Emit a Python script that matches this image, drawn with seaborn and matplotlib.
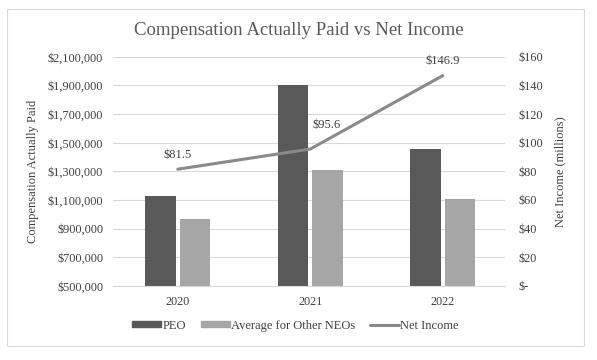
import pandas as pd
import seaborn as sns
import matplotlib.pyplot as plt
from matplotlib.patches import Patch, Rectangle
from matplotlib.lines import Line2D
from matplotlib.ticker import FuncFormatter

# ---------------------------------------------------------
# DATA
# ---------------------------------------------------------
years = ['2020', '2021', '2022']
peo_cap = [1129000, 1904000, 1457000]
neo_cap = [968000, 1310000, 1108000]
net_income = [81.5, 95.6, 146.9]

C_PEO = '#595959'
C_NEO = '#a6a6a6'
C_LINE = '#8a8a8a'
C_TEXT = '#404040'

df = pd.DataFrame({'YEAR': years * 2,
                   'CAP': peo_cap + neo_cap,
                   'GRUP': ['PEO'] * 3 + ['Average for Other NEOs'] * 3})
df_ni = pd.DataFrame({'X': range(len(years)), 'NI': net_income})

sns.set_style("white")
plt.rcParams['font.family'] = ['Liberation Serif', 'DejaVu Serif']

fig = plt.figure(figsize=(5.97, 3.6), dpi=100)
ax = fig.add_axes([0.189, 0.206, 0.657, 0.636])

sns.barplot(data=df, x='YEAR', y='CAP', hue='GRUP',
            palette={'PEO': C_PEO, 'Average for Other NEOs': C_NEO},
            width=0.52, gap=0.12, edgecolor='none', ax=ax, legend=False)

ax.set_ylim(500000, 2100000)
ax.set_yticks(range(500000, 2100001, 200000))
ax.yaxis.set_major_formatter(FuncFormatter(lambda v, p: f'${v:,.0f}'))
ax.set_xlim(-0.49, 2.47)
ax.grid(axis='y', color='#d9d9d9', linewidth=0.8)
ax.set_axisbelow(True)
for s in ax.spines.values():
    s.set_visible(False)
ax.spines['bottom'].set_visible(True)
ax.spines['bottom'].set_color('#d9d9d9')
ax.tick_params(length=0, labelsize=8.8, colors=C_TEXT, pad=7)
ax.set_xlabel('')
ax.set_ylabel('Compensation Actually Paid', fontsize=9, color=C_TEXT, labelpad=6)

ax2 = ax.twinx()
sns.lineplot(data=df_ni, x='X', y='NI', color=C_LINE, linewidth=2.2, ax=ax2)
ax2.set_ylim(0, 160)
ax2.set_yticks(range(0, 161, 20))
ax2.yaxis.set_major_formatter(FuncFormatter(lambda v, p: '$-' if v == 0 else f'${v:.0f}'))
for s in ax2.spines.values():
    s.set_visible(False)
ax2.tick_params(length=0, labelsize=8.8, colors=C_TEXT, pad=10)
ax2.set_ylabel('Net Income (millions)', fontsize=9, color=C_TEXT, labelpad=8)
ax2.set_xlabel('')

offsets = [(0, 6), (12, 13), (0, 6)]
for i, v in enumerate(net_income):
    ax2.annotate(f'${v}', (i, v), xytext=offsets[i], textcoords='offset points',
                 ha='center', va='bottom', fontsize=9, color=C_TEXT)

fig.suptitle('Compensation Actually Paid vs Net Income', y=0.94, fontsize=13.5, color='#595959')

handles = [Patch(color=C_PEO, label='PEO'),
           Patch(color=C_NEO, label='Average for Other NEOs'),
           Line2D([0], [0], color=C_LINE, linewidth=2.2, label='Net Income')]
fig.legend(handles=handles, loc='center', bbox_to_anchor=(0.495, 0.095), ncol=3,
           frameon=False, fontsize=9, handlelength=2.3, handleheight=0.4,
           handletextpad=0.1, columnspacing=1.2, labelcolor=C_TEXT)

fig.patches.append(Rectangle((0.012, 0.04), 0.966, 0.935, transform=fig.transFigure,
                             fill=False, edgecolor='#d9d9d9', linewidth=0.8))

plt.savefig('out.png', dpi=100)
plt.close()
